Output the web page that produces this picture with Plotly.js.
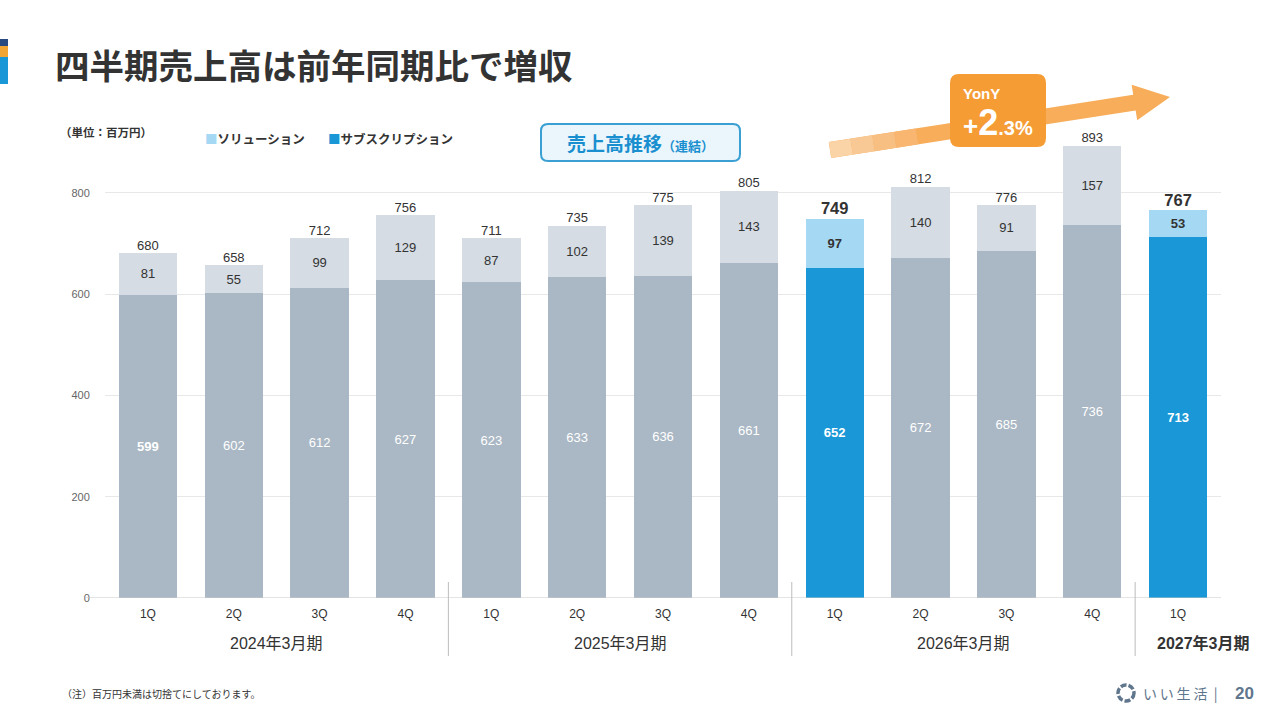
<!DOCTYPE html>
<html>
<head>
<meta charset="utf-8">
<script src="https://cdn.plot.ly/plotly-3.0.1.min.js"></script>
<style>
  html, body { margin: 0; padding: 0; background: #fff; }
  #chart { width: 1280px; height: 720px; }
</style>
</head>
<body>
<div id="chart"></div>
<script>
// data (百万円)
var quarters = ["1Q", "2Q", "3Q", "4Q", "1Q", "2Q", "3Q", "4Q", "1Q", "2Q", "3Q", "4Q", "1Q"];
var fiscalYears = ["2024年3月期", "2025年3月期", "2026年3月期", "2027年3月期"];
var yearOfBar = [0, 0, 0, 0, 1, 1, 1, 1, 2, 2, 2, 2, 3];
var subscription = [599, 602, 612, 627, 623, 633, 636, 661, 652, 672, 685, 736, 713];
var solution = [81, 55, 99, 129, 87, 102, 139, 143, 97, 140, 91, 157, 53];
var totals = [680, 658, 712, 756, 711, 735, 775, 805, 749, 812, 776, 893, 767];
var yonyText = "+2.3%";

// styling
var highlight = [8, 12];
var boldBottom = [0, 8, 12];
var FONT = "Liberation Sans, Noto Sans CJK JP, sans-serif";
var JP = "Noto Sans CJK JP, sans-serif";

var L = 105, R = 1221, T = 142, B = 598;
function px(p) { return (p - L) / (R - L); }
function py(p) { return (B - p) / (B - T); }

var xs = quarters.map(function (q, i) { return i; });
var isHi = xs.map(function (i) { return highlight.indexOf(i) >= 0; });

var subTrace = {
  type: "bar",
  x: xs,
  y: subscription,
  width: 0.68,
  marker: { color: isHi.map(function (h) { return h ? "#1a97d6" : "#aab7c4"; }) },
  text: subscription.map(function (v, i) { return boldBottom.indexOf(i) >= 0 ? "<b>" + v + "</b>" : String(v); }),
  textposition: "inside",
  insidetextanchor: "middle",
  textfont: { family: FONT, size: 13, color: "#ffffff" },
  hoverinfo: "y",
};

var solTrace = {
  type: "bar",
  x: xs,
  y: solution,
  width: 0.68,
  marker: { color: isHi.map(function (h) { return h ? "#a5d8f3" : "#d5dce3"; }) },
  text: solution.map(function (v, i) { return isHi[i] ? "<b>" + v + "</b>" : String(v); }),
  textposition: "inside",
  insidetextanchor: "middle",
  textfont: { family: FONT, size: 13, color: "#333333" },
  hoverinfo: "y",
};

var totalTrace = {
  type: "scatter",
  mode: "text",
  x: xs,
  y: subscription.map(function (v, i) { return v + solution[i]; }),
  text: totals.map(function (v, i) { return isHi[i] ? "<b>" + v + "</b>" : String(v); }),
  textposition: "top center",
  textfont: {
    family: FONT,
    size: isHi.map(function (h) { return h ? 16.5 : 13; }),
    color: "#333333",
  },
  cliponaxis: false,
  hoverinfo: "skip",
};

var shapes = [];
var annotations = [];

// left logo bar
shapes.push({ type: "rect", xref: "paper", yref: "paper", x0: px(0), x1: px(8), y0: py(39), y1: py(46), fillcolor: "#294a80", line: { width: 0 } });
shapes.push({ type: "rect", xref: "paper", yref: "paper", x0: px(0), x1: px(8), y0: py(46), y1: py(57), fillcolor: "#f2a533", line: { width: 0 } });
shapes.push({ type: "rect", xref: "paper", yref: "paper", x0: px(0), x1: px(8), y0: py(57), y1: py(84), fillcolor: "#1a97d6", line: { width: 0 } });

// baseline
shapes.push({ type: "line", xref: "paper", yref: "y", x0: px(86), x1: 1, y0: 0, y1: 0, line: { color: "#c9c9c9", width: 1.2 } });

// group dividers + fiscal year labels
var groupStart = [];
yearOfBar.forEach(function (g, i) { if (groupStart[g] === undefined) groupStart[g] = i; });
fiscalYears.forEach(function (name, g) {
  var first = groupStart[g];
  var last = yearOfBar.lastIndexOf(g);
  if (g > 0) {
    shapes.push({ type: "line", xref: "x", yref: "paper", x0: first - 0.5, x1: first - 0.5, y0: py(582), y1: py(656), line: { color: "#bdbdbd", width: 1 } });
  }
  var isLast = g === fiscalYears.length - 1;
  annotations.push({
    xref: "x", yref: "paper", x: (first + last) / 2, y: py(643), xshift: isLast ? 25 : 0,
    text: isLast ? "<b>" + name + "</b>" : name,
    showarrow: false, xanchor: "center", yanchor: "middle",
    font: { family: FONT, size: 16, color: "#333333" },
  });
});

// trend arrow
function poly(pts) {
  return pts.map(function (p, i) { return (i ? "L" : "M") + px(p[0]) + "," + py(p[1]); }).join(" ") + " Z";
}
(function () {
  var sx = 830, sy = 150, tx = 1170, ty = 97;
  var dx = tx - sx, dy = ty - sy, len = Math.sqrt(dx * dx + dy * dy);
  var ux = dx / len, uy = dy / len, nx = -uy, ny = ux;
  var bw = 8, hw = 18, hl = 36;
  var bx = tx - hl * ux, by = ty - hl * uy;
  shapes.push({ type: "path", xref: "paper", yref: "paper", fillcolor: "#f7ad5a", line: { width: 0 }, path: poly([
    [sx + bw * nx, sy + bw * ny], [bx + bw * nx, by + bw * ny], [bx + hw * nx, by + hw * ny],
    [tx, ty], [bx - hw * nx, by - hw * ny], [bx - bw * nx, by - bw * ny], [sx - bw * nx, sy - bw * ny],
  ]) });
  // lighter tail fading to the left
  var tints = ["#fad3a6", "#f9c995", "#f8bf82", "#f8b670"];
  tints.forEach(function (c, k) {
    var a = k * 22, b = (k + 1) * 22;
    var ax = sx + a * ux, ay = sy + a * uy, cx = sx + b * ux, cy = sy + b * uy;
    shapes.push({ type: "path", xref: "paper", yref: "paper", fillcolor: c, line: { width: 0 }, path: poly([
      [ax + bw * nx, ay + bw * ny], [cx + bw * nx, cy + bw * ny], [cx - bw * nx, cy - bw * ny], [ax - bw * nx, ay - bw * ny],
    ]) });
  });
})();

// YonY badge
function roundRect(x0, y0, x1, y1, r) {
  var X = function (v) { return px(v); }, Y = function (v) { return py(v); };
  return "M" + X(x0 + r) + "," + Y(y0) + " L" + X(x1 - r) + "," + Y(y0) +
    " Q" + X(x1) + "," + Y(y0) + " " + X(x1) + "," + Y(y0 + r) +
    " L" + X(x1) + "," + Y(y1 - r) + " Q" + X(x1) + "," + Y(y1) + " " + X(x1 - r) + "," + Y(y1) +
    " L" + X(x0 + r) + "," + Y(y1) + " Q" + X(x0) + "," + Y(y1) + " " + X(x0) + "," + Y(y1 - r) +
    " L" + X(x0) + "," + Y(y0 + r) + " Q" + X(x0) + "," + Y(y0) + " " + X(x0 + r) + "," + Y(y0) + " Z";
}
shapes.push({ type: "path", xref: "paper", yref: "paper", path: roundRect(950, 74, 1046, 147, 9), fillcolor: "#f59c35", line: { width: 0 } });
annotations.push({ xref: "paper", yref: "paper", x: px(961), y: py(93), xanchor: "left", yanchor: "middle", showarrow: false,
  text: "<b>YonY</b>", font: { family: FONT, size: 15, color: "#ffffff" } });
annotations.push({ xref: "paper", yref: "paper", x: px(961), y: py(123), xanchor: "left", yanchor: "middle", showarrow: false,
  text: "<b><span style='font-size:26px'>" + yonyText.slice(0, 1) + "</span><span style='font-size:36px'>" + yonyText.slice(1, 2) +
    "</span><span style='font-size:20px'>" + yonyText.slice(2) + "</span></b>",
  font: { family: FONT, size: 30, color: "#ffffff" } });

// 売上高推移 badge
shapes.push({ type: "path", xref: "paper", yref: "paper", path: roundRect(541, 124, 740, 161, 7), fillcolor: "#eaf6fc", line: { color: "#3aa0d4", width: 2 } });
annotations.push({ xref: "paper", yref: "paper", x: px(640), y: py(143), xanchor: "center", yanchor: "middle", showarrow: false,
  text: "<b>売上高推移<span style='font-size:13px'>（連結）</span></b>", font: { family: JP, size: 19, color: "#1a8fcf" } });

// title, unit, legend, footer
annotations.push({ xref: "paper", yref: "paper", x: px(53), y: py(64), xanchor: "left", yanchor: "middle", showarrow: false,
  text: "<b>四半期売上高は前年同期比で増収</b>", font: { family: JP, size: 34.5, color: "#333333" } });
annotations.push({ xref: "paper", yref: "paper", x: px(58), y: py(132), xanchor: "left", yanchor: "middle", showarrow: false,
  text: "<b>（単位：百万円）</b>", font: { family: JP, size: 11.5, color: "#333333" } });
annotations.push({ xref: "paper", yref: "paper", x: px(203), y: py(138), xanchor: "left", yanchor: "middle", showarrow: false,
  text: "<b><span style='color:#a5d8f3'>■</span>ソリューション</b>", font: { family: JP, size: 12.5, color: "#333333" } });
annotations.push({ xref: "paper", yref: "paper", x: px(326), y: py(138), xanchor: "left", yanchor: "middle", showarrow: false,
  text: "<b><span style='color:#1a97d6'>■</span>サブスクリプション</b>", font: { family: JP, size: 12.5, color: "#333333" } });
annotations.push({ xref: "paper", yref: "paper", x: px(60), y: py(693), xanchor: "left", yanchor: "middle", showarrow: false,
  text: "（注）百万円未満は切捨てにしております。", font: { family: JP, size: 10, color: "#333333" } });

// company mark
shapes.push({ type: "circle", xref: "paper", yref: "paper", x0: px(1118), x1: px(1134), y0: py(685), y1: py(701), line: { color: "#60768d", width: 3.5, dash: "6px,2px" } });
annotations.push({ xref: "paper", yref: "paper", x: px(1141), y: py(693), xanchor: "left", yanchor: "middle", showarrow: false,
  text: "い\u2009い\u2009生\u2009活\u00a0\u00a0|", font: { family: JP, size: 14, color: "#60768d" } });
annotations.push({ xref: "paper", yref: "paper", x: px(1256), y: py(693), xanchor: "right", yanchor: "middle", showarrow: false,
  text: "<b>20</b>", font: { family: FONT, size: 17, color: "#60768d" } });

var layout = {
  width: 1280,
  height: 720,
  margin: { l: L, r: 1280 - R, t: T, b: 720 - B },
  paper_bgcolor: "#ffffff",
  plot_bgcolor: "#ffffff",
  barmode: "stack",
  showlegend: false,
  font: { family: FONT, color: "#333333" },
  xaxis: {
    range: [-0.5, quarters.length - 0.5],
    tickvals: xs,
    ticktext: quarters,
    showgrid: false,
    zeroline: false,
    showline: false,
    ticks: "outside",
    ticklen: 5,
    tickcolor: "rgba(0,0,0,0)",
    tickfont: { family: FONT, size: 12, color: "#333333" },
    fixedrange: true,
  },
  yaxis: {
    range: [0, 900],
    tickvals: [0, 200, 400, 600, 800],
    showgrid: true,
    gridcolor: "#e8e8e8",
    zeroline: false,
    showline: false,
    ticks: "outside",
    ticklen: 12,
    tickcolor: "rgba(0,0,0,0)",
    tickfont: { family: FONT, size: 11, color: "#666666" },
    fixedrange: true,
  },
  shapes: shapes,
  annotations: annotations,
};

var config = { responsive: false, displayModeBar: false, staticPlot: true };

Plotly.newPlot("chart", [subTrace, solTrace, totalTrace], layout, config);
</script>
</body>
</html>
